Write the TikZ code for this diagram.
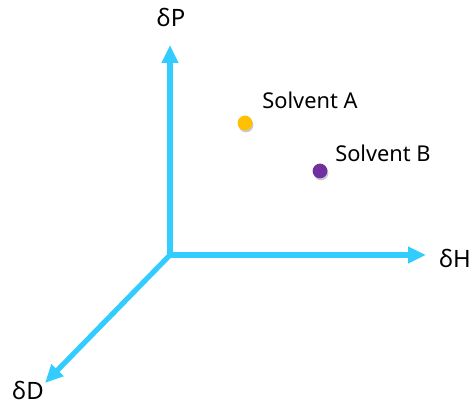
\documentclass[tikz,border=0pt]{standalone}
\usepackage{fontspec}
\setmainfont{Noto Sans}
\usepackage{xcolor}
\usepackage{tikz}
\usetikzlibrary{calc, positioning, arrows.meta}

\definecolor{axisblue}{RGB}{51,204,255}
\definecolor{dotorange}{RGB}{255,192,0}
\definecolor{dotpurple}{RGB}{112,48,160}

\begin{document}
\begin{tikzpicture}[x=0.025cm,y=-0.025cm,
                    axis/.style={-{Triangle[length=0.45cm,width=0.4cm]},line width=0.13cm,draw=axisblue},
                    axis label/.style={font=\fontsize{17}{20}\selectfont,inner sep=0pt},
                    solvent dot/.style={circle,minimum size=0.37cm,inner sep=0pt},
                    solvent label/.style={font=\fontsize{15.5}{18}\selectfont,inner sep=0pt}]
 \useasboundingbox (0,0) rectangle (473,405);

 \coordinate (Origin) at (170,255);
 \coordinate (PTip) at (170,45);
 \coordinate (HTip) at (426,255);
 \coordinate (DTip) at (45,383);

 \draw[axis] (Origin)--(PTip);
 \draw[axis] (Origin)--(HTip);
 \draw[axis] (Origin)--(DTip);

 \node[axis label] (PLabel) at (171,17) {δP};
 \node[axis label] (HLabel) at (455,258) {δH};
 \node[axis label] (DLabel) at (28,390) {δD};

 % solvents
 \node[solvent dot,fill=black!35,opacity=0.6] (AShadow) at (246,125) {};
 \node[solvent dot,fill=dotorange] (SolventA) at (245,123) {};
 \node[solvent dot,fill=black!35,opacity=0.6] (BShadow) at (321,173) {};
 \node[solvent dot,fill=dotpurple] (SolventB) at (320,171) {};

 \node[solvent label] (ALabel) at (310,100) {Solvent A};
 \node[solvent label] (BLabel) at (383,153) {Solvent B};

\end{tikzpicture}
\end{document}
